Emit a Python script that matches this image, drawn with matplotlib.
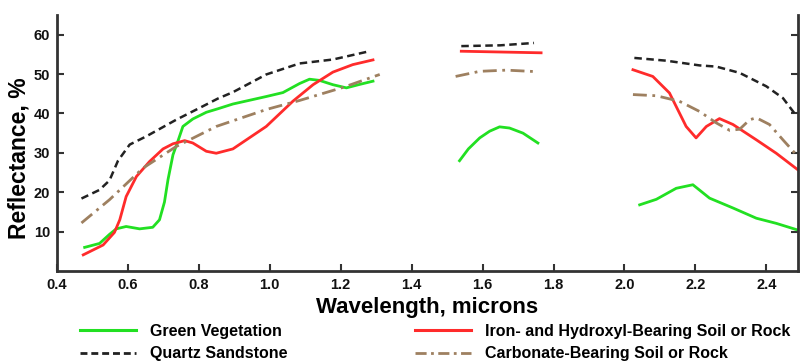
import matplotlib
matplotlib.use("Agg")
import matplotlib.pyplot as plt
import numpy as np
from matplotlib.lines import Line2D

nan = np.nan

# Reflectance spectra, gaps are the water absorption bands
veg_wl = [0.478, 0.52, 0.548, 0.567, 0.595, 0.633, 0.67, 0.689, 0.703, 0.713, 0.727, 0.741,
          0.755, 0.783, 0.821, 0.854, 0.896, 0.99, 1.037, 1.084, 1.112, 1.14, 1.178, 1.216,
          1.25, 1.291, nan,
          1.535, 1.56, 1.592, 1.62, 1.648, 1.676, 1.714, 1.756, nan,
          2.043, 2.09, 2.146, 2.193, 2.24, 2.306, 2.372, 2.428, 2.489]
veg_refl = [6.0, 7.0, 9.3, 10.7, 11.3, 10.7, 11.1, 13.0, 17.5, 23.2, 29.5, 33.0,
            36.7, 38.6, 40.3, 41.2, 42.4, 44.3, 45.3, 47.6, 48.7, 48.4, 47.3, 46.5,
            47.3, 48.2, nan,
            28.0, 31.0, 33.8, 35.5, 36.6, 36.3, 35.0, 32.5, nan,
            16.8, 18.2, 21.0, 21.9, 18.5, 16.0, 13.4, 12.1, 10.4]

quartz_wl = [0.469, 0.52, 0.548, 0.572, 0.605, 0.652, 0.736, 0.802, 0.854, 0.896, 0.99,
             1.084, 1.178, 1.281, nan,
             1.54, 1.65, 1.745, nan,
             2.028, 2.118, 2.212, 2.259, 2.325, 2.4, 2.447, 2.484]
quartz_refl = [18.4, 20.6, 23.0, 28.0, 32.1, 34.2, 38.4, 41.4, 43.8, 45.4, 49.9,
               52.7, 53.7, 55.8, nan,
               57.1, 57.3, 57.9, nan,
               54.1, 53.4, 52.2, 51.9, 50.3, 46.9, 43.9, 39.5]

iron_wl = [0.474, 0.53, 0.562, 0.577, 0.595, 0.624, 0.661, 0.699, 0.727, 0.76, 0.783,
           0.821, 0.849, 0.896, 0.99, 1.065, 1.122, 1.178, 1.234, 1.291, nan,
           1.54, 1.765, nan,
           2.024, 2.08, 2.127, 2.174, 2.202, 2.231, 2.268, 2.306, 2.372, 2.428, 2.489]
iron_refl = [4.1, 6.6, 9.8, 13.0, 18.9, 24.0, 27.8, 31.0, 32.3, 33.1, 32.5,
             30.4, 29.9, 31.0, 36.7, 43.1, 47.3, 50.5, 52.4, 53.6, nan,
             55.8, 55.4, nan,
             51.1, 49.4, 45.2, 36.7, 33.8, 36.7, 38.7, 37.2, 33.3, 29.9, 25.7]

carb_wl = [0.469, 0.548, 0.642, 0.736, 0.849, 0.99, 1.084, 1.206, 1.31, nan,
           1.524, 1.592, 1.667, 1.756, nan,
           2.024, 2.09, 2.155, 2.212, 2.259, 2.297, 2.325, 2.353, 2.372, 2.409, 2.447, 2.489]
carb_refl = [12.2, 18.1, 26.1, 31.6, 36.7, 41.0, 43.3, 46.6, 49.9, nan,
             49.4, 50.7, 51.0, 50.6, nan,
             44.8, 44.5, 43.1, 40.5, 37.6, 35.7, 36.0, 38.4, 38.9, 37.2, 33.3, 29.1]

x_ticks = [0.4, 0.6, 0.8, 1.0, 1.2, 1.4, 1.6, 1.8, 2.0, 2.2, 2.4]
y_ticks = [10, 20, 30, 40, 50, 60]

plt.rcParams["font.family"] = ["Liberation Sans", "DejaVu Sans"]
plt.rcParams["font.weight"] = "bold"

green = "#22e022"
red = "#ff2b2b"
black = "#222222"
brown = "#9e8060"
quartz_dash = (3, 1.8)
carb_dash = (5, 2, 1, 2)

fig = plt.figure(figsize=(8, 3.63), dpi=100)
ax = fig.add_axes([57 / 800, 1 - 271 / 363, (797.5 - 57) / 800, 256 / 363])

ax.plot(veg_wl, veg_refl, color=green, lw=2)
ax.plot(quartz_wl, quartz_refl, color=black, lw=1.8, dashes=quartz_dash)
ax.plot(iron_wl, iron_refl, color=red, lw=2)
ax.plot(carb_wl, carb_refl, color=brown, lw=2, dashes=carb_dash)

ax.set_xlim(0.4, 2.488)
ax.set_ylim(0, 65)
ax.set_xticks(x_ticks)
ax.set_xticklabels([f"{t:.1f}" for t in x_ticks])
ax.set_yticks(y_ticks)
ax.spines["top"].set_visible(False)
for s in ["left", "bottom", "right"]:
    ax.spines[s].set_linewidth(2)
    ax.spines[s].set_color("#333333")
ax.tick_params(direction="in", length=5, width=1.5, labelsize=10.5, colors="#333333",
               labelcolor="#111111", right=True, pad=5)

ax.set_xlabel("Wavelength, microns", fontsize=16, fontweight="bold", labelpad=4)
ax.set_ylabel("Reflectance, %", fontsize=16.5, fontweight="bold")
ax.yaxis.set_label_coords(-0.036, 0.44)

h1 = [Line2D([], [], color=green, lw=2.2), Line2D([], [], color=black, lw=2, dashes=(2.5, 1.4))]
h2 = [Line2D([], [], color=red, lw=2.2), Line2D([], [], color=brown, lw=2, dashes=(4, 1.6, 1, 1.6))]
legend_kw = dict(loc="upper left", frameon=False, borderpad=0, fontsize=11.5,
                 handlelength=3.5, handletextpad=0.9, labelspacing=0.45)
fig.legend(h1, ["Green Vegetation", "Quartz Sandstone"],
           bbox_to_anchor=(72 / 800, 1 - 316 / 363), **legend_kw)
fig.legend(h2, ["Iron- and Hydroxyl-Bearing Soil or Rock", "Carbonate-Bearing Soil or Rock"],
           bbox_to_anchor=(407 / 800, 1 - 316 / 363), **legend_kw)

fig.savefig("out.png", dpi=100)
